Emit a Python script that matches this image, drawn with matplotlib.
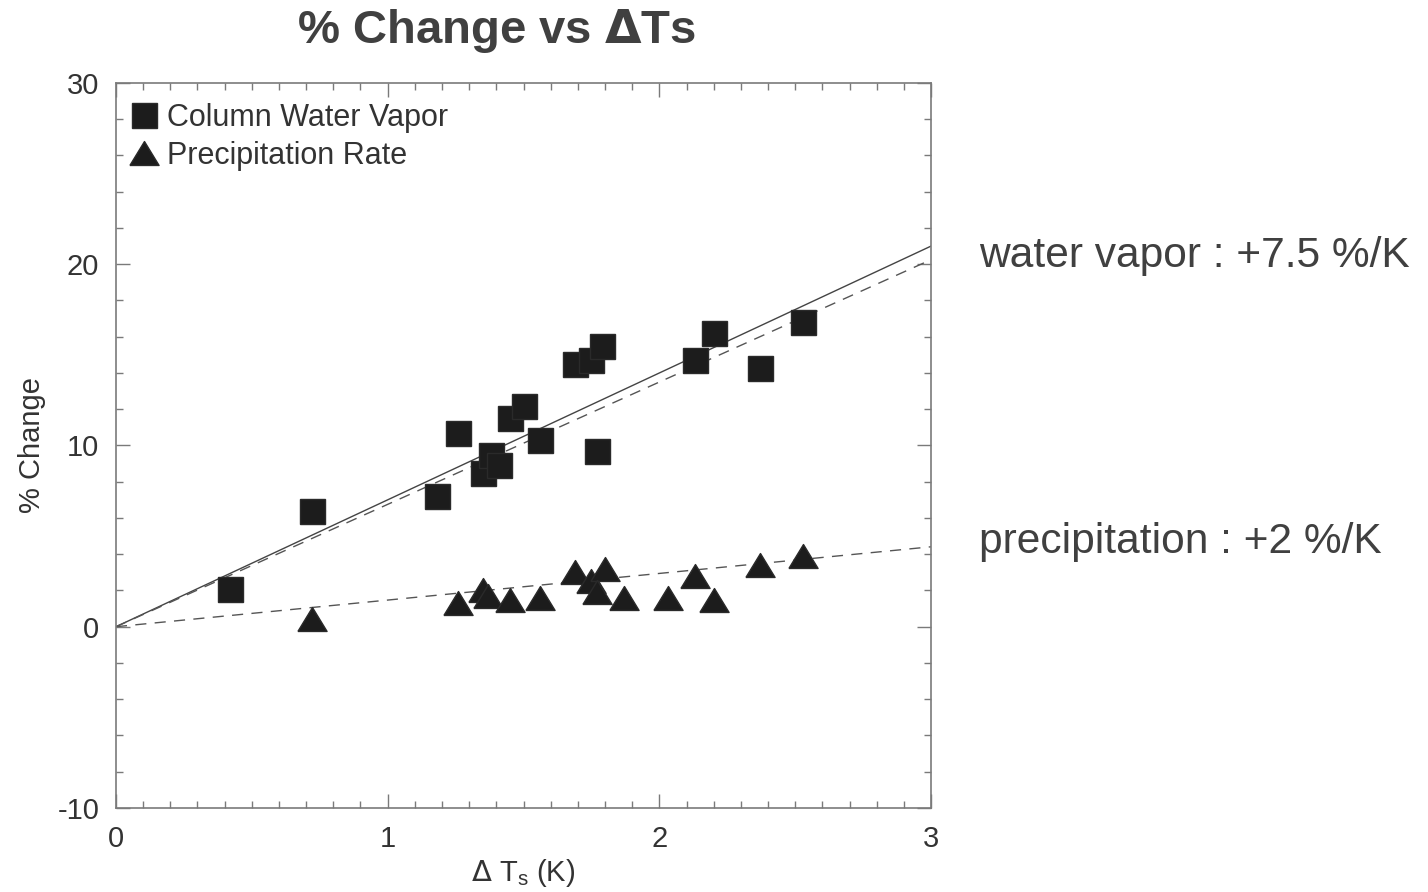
import numpy as np
import matplotlib.pyplot as plt
from matplotlib.ticker import MultipleLocator

plt.rcParams['font.family'] = ['Liberation Sans', 'DejaVu Sans']
plt.rcParams['axes.unicode_minus'] = False

# column water vapour change (%) against surface warming (K)
cwv_dts = [0.42, 0.72, 1.18, 1.26, 1.35, 1.38, 1.41, 1.45, 1.50, 1.56,
           1.69, 1.75, 1.79, 1.77, 2.13, 2.20, 2.37, 2.53]
cwv_pct = [2.1, 6.4, 7.2, 10.7, 8.5, 9.5, 8.9, 11.5, 12.2, 10.3,
           14.5, 14.7, 15.5, 9.7, 14.7, 16.2, 14.3, 16.8]

# precipitation rate change (%)
pr_dts = [0.72, 1.26, 1.35, 1.37, 1.45, 1.56, 1.69, 1.75, 1.80, 1.77,
          1.87, 2.03, 2.13, 2.20, 2.37, 2.53]
pr_pct = [0.4, 1.3, 2.0, 1.7, 1.5, 1.6, 3.0, 2.5, 3.2, 1.9,
          1.6, 1.6, 2.8, 1.5, 3.4, 3.9]

# fitted slopes (%/K)
cc_slope = 7.0        # solid reference line
cwv_fit_slope = 6.75  # dashed fit through water vapour
pr_fit_slope = 1.47   # dashed fit through precipitation

ink = '#1c1c1c'
frame = '#7a7a7a'
txt = '#333333'

fig = plt.figure(figsize=(14.28, 8.92), dpi=100)
ax = fig.add_axes([0.0812, 0.0942, 0.5708, 0.8128])

xs = np.array([0.0, 3.0])
ax.plot(xs, cc_slope * xs, color='#444444', lw=1.0)
ax.plot(xs, cwv_fit_slope * xs, color='#555555', lw=1.0, dashes=(8, 6))
ax.plot(xs, pr_fit_slope * xs, color='#555555', lw=1.0, dashes=(8, 6))

tri = [(-1, -0.82), (1, -0.82), (0, 0.82), (-1, -0.82)]
ax.plot(cwv_dts, cwv_pct, ls='none', marker='s', ms=18, color=ink,
        mec='#2a2a2a', label='Column Water Vapor')
ax.plot(pr_dts, pr_pct, ls='none', marker=tri, ms=21, color=ink,
        mec='#2a2a2a', label='Precipitation Rate')

ax.set_xlim(0, 3)
ax.set_ylim(-10, 30)
ax.xaxis.set_major_locator(MultipleLocator(1))
ax.xaxis.set_minor_locator(MultipleLocator(0.1))
ax.yaxis.set_major_locator(MultipleLocator(10))
ax.yaxis.set_minor_locator(MultipleLocator(2))
ax.tick_params(which='both', direction='in', top=True, right=True,
               color=frame, width=1.0, labelsize=21, labelcolor=txt)
ax.tick_params(which='major', length=10, pad=12)
ax.tick_params(which='minor', length=5)
for s in ax.spines.values():
    s.set_color(frame)
    s.set_linewidth(1.2)

ax.set_xlabel(r'$\Delta$ T$_\mathregular{s}$ (K)', fontsize=21, color=txt,
              labelpad=3)
ax.set_ylabel('% Change', fontsize=21, color=txt, labelpad=8)

ax.legend(loc='upper left', bbox_to_anchor=(0.004, 0.987), frameon=False,
          fontsize=22, handlelength=0.9, handletextpad=0.3, labelspacing=0.25,
          borderaxespad=0.15, borderpad=0.2, labelcolor=txt)

fig.text(0.348, 0.965, '% Change vs $\\mathbf{\\Delta}$Ts', fontsize=34,
         fontweight='bold', color='#404040', ha='center', va='center')
fig.text(0.6856, 0.713, 'water vapor : +7.5 %/K', fontsize=30.6,
         color='#404040', ha='left', va='center')
fig.text(0.6856, 0.392, 'precipitation : +2 %/K', fontsize=30.6,
         color='#404040', ha='left', va='center')

fig.savefig('out.png', dpi=100, facecolor='white')
